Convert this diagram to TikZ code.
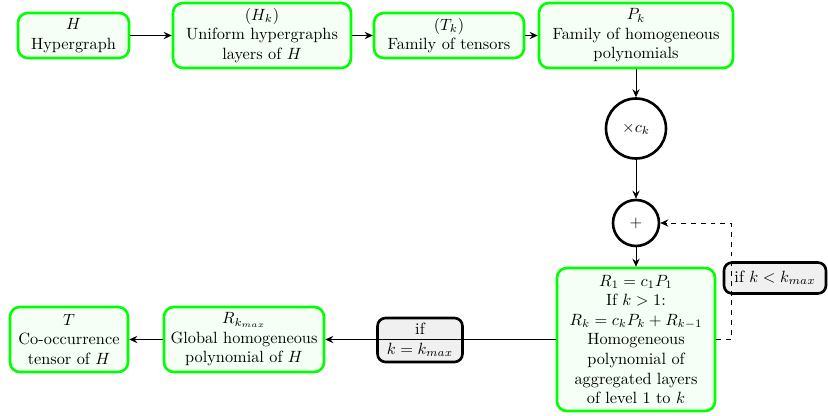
\documentclass[tikz,border=0pt]{standalone}
\usetikzlibrary{arrows.meta}
\newcommand\pxu{0.6135pt}
\begin{document}
\begin{tikzpicture}[x=0.6135pt,y=-0.6135pt,
  box/.style={draw=green, line width=1.6pt, fill=green!4, rounded corners=6pt, align=center, inner sep=1pt},
  cond/.style={draw=black, line width=1.6pt, fill=gray!12, rounded corners=5pt, align=center, inner sep=1pt},
  op/.style={circle, draw=black, line width=1.6pt, inner sep=0pt},
  arr/.style={-{Stealth[length=5pt,width=4.5pt,inset=1.8pt]}},
  conn/.style={arr, line width=0.5pt}]
\useasboundingbox (0,0) rectangle (828,416);
\node[box, minimum width=111*\pxu, minimum height=45*\pxu] (H) at (73.5,35.5) {$H$\\Hypergraph};
\node[box, minimum width=178*\pxu, minimum height=65*\pxu] (Hk) at (262,35.5) {$(H_k)$\\Uniform hypergraphs\\layers of $H$};
\node[box, minimum width=150*\pxu, minimum height=45*\pxu] (Tk) at (449,35.5) {$(T_k)$\\Family of tensors};
\node[box, minimum width=194*\pxu, minimum height=65*\pxu] (Pk) at (636,35.5) {$P_k$\\Family of homogeneous\\polynomials};
\node[op, minimum size=60*\pxu] (mul) at (636,128.5) {$\times c_k$};
\node[op, minimum size=46*\pxu] (plus) at (636,223) {$+$};
\node[box, minimum width=158*\pxu, minimum height=143*\pxu] (R) at (636,339.5) {$R_1=c_1P_1$\\If $k>1$:\\$R_k=c_kP_k+R_{k-1}$\\Homogeneous\\polynomial of\\aggregated layers\\of level 1 to $k$};
\node[box, minimum width=160*\pxu, minimum height=65*\pxu] (Rk) at (244,339.5) {$R_{k_{max}}$\\Global homogeneous\\polynomial of $H$};
\node[box, minimum width=118*\pxu, minimum height=65*\pxu] (T) at (69,339.5) {$T$\\Co-occurrence\\tensor of $H$};
\node[cond, minimum width=102*\pxu, minimum height=31*\pxu] (c1) at (775,278) {if $k<k_{max}$};
\node[cond, minimum width=85*\pxu, minimum height=44*\pxu] (c2) at (420,340) {if\\$k=k_{max}$};
\coordinate (d1) at (731,339.5);
\coordinate (d2) at (731,223);
\draw[conn] (H) -- (Hk);
\draw[conn] (Hk) -- (Tk);
\draw[conn] (Tk) -- (Pk);
\draw[conn] (Pk) -- (mul);
\draw[conn] (mul) -- (plus);
\draw[conn] (plus) -- (R);
\draw[conn] (R.west) -- (Rk.east);
\draw[conn] (Rk) -- (T);
\draw[conn, dashed] (R.east) -- (d1) -- (d2) -- (plus.east);
\end{tikzpicture}
\end{document}
